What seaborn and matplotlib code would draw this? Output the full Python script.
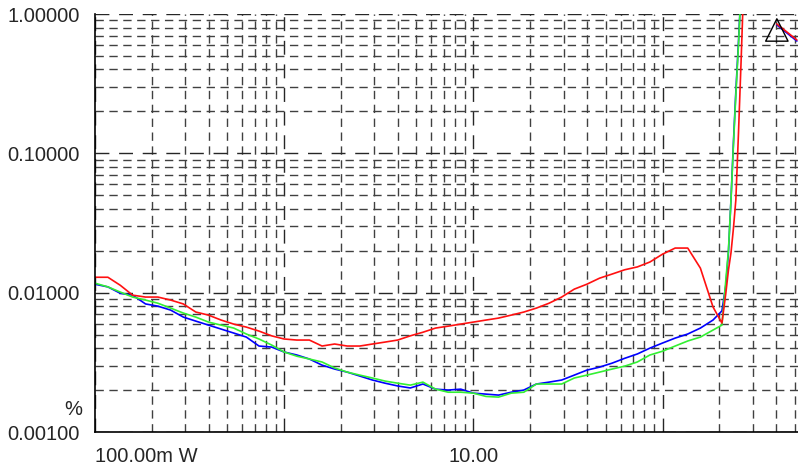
import matplotlib
matplotlib.use("Agg")
import matplotlib.pyplot as plt
import matplotlib.ticker as mticker
import numpy as np
import pandas as pd
import seaborn as sns

# ---- data (power in W, THD+N in %) ----
power = [0.100, 0.117, 0.136, 0.158, 0.185, 0.215, 0.251, 0.293, 0.341, 0.398,
         0.464, 0.541, 0.631, 0.736, 0.858, 1.000, 1.166, 1.359, 1.585, 1.848,
         2.154, 2.512, 2.929, 3.415, 3.981, 4.642, 5.412, 6.310, 7.356, 8.577,
         10.00, 11.66, 13.59, 15.85, 18.48, 21.54, 25.12, 29.29, 34.15, 39.81,
         46.42, 54.12, 63.10, 73.56, 85.77, 100.0, 116.6, 135.9, 158.5, 184.8,
         206.0, 216.0, 223.0, 230.0, 237.0, 244.0, 252.0, 260.0, 268.0]

red = [0.0129, 0.0129, 0.0113, 0.0096, 0.0093, 0.0093, 0.00885, 0.0083, 0.00726, 0.0069,
       0.00636, 0.00595, 0.00566, 0.0053, 0.0049, 0.00465, 0.00457, 0.00457, 0.00414, 0.00428,
       0.00414, 0.00414, 0.00428, 0.00442, 0.00457, 0.0049, 0.0052, 0.00557, 0.00575, 0.00595,
       0.00615, 0.00636, 0.00657, 0.0069, 0.00726, 0.00775, 0.0084, 0.0093, 0.0106, 0.0115,
       0.0127, 0.0136, 0.0146, 0.0153, 0.0166, 0.0189, 0.0209, 0.0209, 0.0150, 0.0079,
       0.00605, 0.0099, 0.0145, 0.0193, 0.0290, 0.0462, 0.140, 0.45, 1.5]

blue = [0.0115, 0.0110, 0.0099, 0.0096, 0.0083, 0.0080, 0.0075, 0.00668, 0.00625, 0.00585,
        0.00548, 0.00513, 0.0048, 0.00414, 0.00407, 0.00375, 0.00357, 0.00334, 0.00302, 0.00283,
        0.00269, 0.00252, 0.00236, 0.00224, 0.00214, 0.00207, 0.00221, 0.00203, 0.0020, 0.00203,
        0.0019, 0.00187, 0.00184, 0.00193, 0.0020, 0.00221, 0.00228, 0.00236, 0.00256, 0.00278,
        0.00292, 0.00312, 0.00338, 0.00363, 0.0040, 0.00435, 0.00472, 0.00505, 0.00557, 0.00636,
        0.0074, 0.0113, 0.0195, 0.0462, 0.120, 0.276, 0.63, 1.5, 3.0]

green = [0.0117, 0.0110, 0.0101, 0.0093, 0.00885, 0.0084, 0.00775, 0.00714, 0.00668, 0.00615,
         0.00585, 0.00557, 0.00505, 0.00465, 0.00421, 0.00375, 0.0035, 0.00334, 0.00318, 0.00288,
         0.00269, 0.00256, 0.00244, 0.00232, 0.00224, 0.00217, 0.00228, 0.00203, 0.00193, 0.00193,
         0.0019, 0.0018, 0.00178, 0.0019, 0.00193, 0.00221, 0.00221, 0.00221, 0.00244, 0.00256,
         0.00269, 0.00283, 0.00297, 0.00318, 0.00357, 0.0038, 0.00414, 0.0045, 0.0048, 0.00539,
         0.00585, 0.0123, 0.0202, 0.0462, 0.115, 0.262, 0.60, 1.5, 3.0]

# wrapped tail visible at the top right
wrap_power = [402.0, 513.0]
wrap_red = [0.848, 0.651]
wrap_blue = [0.835, 0.640]

# cursor marker
cursor_power = [402.0]
cursor_level = [0.768]

x_tick_values = [0.1, 1.0, 10.0, 100.0]
x_tick_labels = ["100.00m W", "", "10.00", ""]
y_tick_values = [0.001, 0.01, 0.1, 1.0]
y_tick_labels = ["0.00100", "0.01000", "0.10000", "1.00000"]

# ---- figure ----
sns.set_style("white")
plt.rcParams["font.family"] = ["Liberation Sans", "DejaVu Sans"]

fig = plt.figure(figsize=(7.98, 4.69), dpi=100)
ax = fig.add_axes([95 / 798, 1 - 432 / 469, 1 - 95 / 798, (432 - 14) / 469])

df = pd.DataFrame({
    "power": power * 3,
    "thd": blue + green + red,
    "ch": ["blue"] * len(power) + ["green"] * len(power) + ["red"] * len(power),
})
pal = {"blue": "#0000ff", "green": "#33f033", "red": "#ff1010"}
sns.lineplot(data=df, x="power", y="thd", hue="ch", palette=pal, estimator=None,
             sort=False, lw=1.2, legend=False, ax=ax)

wdf = pd.DataFrame({
    "power": wrap_power * 2,
    "thd": wrap_blue + wrap_red,
    "ch": ["blue"] * 2 + ["red"] * 2,
})
sns.lineplot(data=wdf, x="power", y="thd", hue="ch", palette=pal, estimator=None,
             sort=False, lw=1.2, legend=False, ax=ax)

sns.scatterplot(x=cursor_power, y=cursor_level, marker="^", s=260,
                facecolor="none", edgecolor="black", linewidth=1.0, ax=ax, zorder=5)

ax.set_xscale("log")
ax.set_yscale("log")
ax.set_xlim(0.1, 520)
ax.set_ylim(0.001, 1.0)

ax.set_xticks(x_tick_values)
ax.set_xticklabels(x_tick_labels)
ax.set_yticks(y_tick_values)
ax.set_yticklabels(y_tick_labels)
ax.xaxis.set_minor_locator(mticker.LogLocator(base=10, subs=np.arange(2, 10), numticks=20))
ax.yaxis.set_minor_locator(mticker.LogLocator(base=10, subs=np.arange(2, 10), numticks=20))
ax.xaxis.set_minor_formatter(mticker.NullFormatter())
ax.yaxis.set_minor_formatter(mticker.NullFormatter())

ax.tick_params(axis="both", which="minor", length=0)
ax.tick_params(axis="y", which="major", direction="out", length=7, width=1,
               color="black", labelsize=14.5, pad=4)
ax.tick_params(axis="x", which="major", direction="out", length=5, width=1,
               color="0.4", labelsize=14.5, pad=6)
for t, lab in zip(ax.xaxis.get_major_ticks(), x_tick_labels):
    if lab == "":
        t.tick1line.set_visible(False)
xl = ax.get_xticklabels()
xl[0].set_horizontalalignment("left")

ax.grid(which="major", axis="both", color="0.15", linestyle=(0, (10, 7)), lw=1.0)
ax.grid(which="minor", axis="both", color="0.25", linestyle=(0, (6, 4)), lw=1.0)
ax.set_axisbelow(True)

for s in ["top", "right"]:
    ax.spines[s].set_visible(False)
for s in ["left", "bottom"]:
    ax.spines[s].set_visible(True)
    ax.spines[s].set_color("black")
    ax.spines[s].set_linewidth(1.2)

ax.set_xlabel("")
ax.set_ylabel("")
fig.text(82 / 798, 1 - 409 / 469, "%", ha="right", va="center", fontsize=14.5)

fig.savefig("out.png", dpi=100)
